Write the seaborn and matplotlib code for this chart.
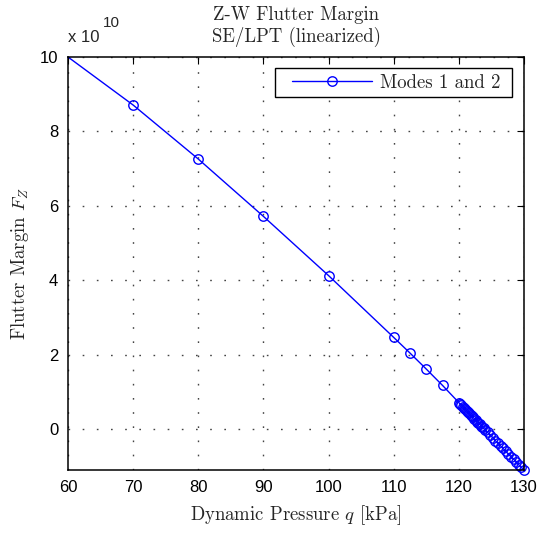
import matplotlib
matplotlib.use("Agg")
import matplotlib.pyplot as plt
from matplotlib.legend_handler import HandlerLine2D
import seaborn as sns

# Dynamic pressure [kPa] and flutter margin (units of 1e10)
q_coarse = [60, 70, 80, 90, 100, 110, 112.5, 115, 117.5]
fz_coarse = [10.0, 8.71, 7.26, 5.72, 4.13, 2.47, 2.05, 1.62, 1.18]

q_fine = [120.0, 120.2, 120.4, 120.6, 120.8, 121.0, 121.2, 121.4, 121.6, 121.8,
          122.0, 122.2, 122.4, 122.6, 122.8, 123.0, 123.2, 123.4, 123.6, 123.8,
          124.0, 124.4, 124.8, 125.2, 125.6, 126.0, 126.4, 126.8, 127.2, 127.6,
          128.0, 128.4, 128.8, 129.2, 129.6, 130.0]
fz_fine = [0.72, 0.68, 0.65, 0.61, 0.58, 0.54, 0.50, 0.47, 0.43, 0.39,
           0.36, 0.32, 0.29, 0.25, 0.21, 0.18, 0.14, 0.10, 0.07, 0.03,
           -0.01, -0.08, -0.15, -0.22, -0.30, -0.37, -0.44, -0.51, -0.59, -0.66,
           -0.73, -0.80, -0.87, -0.95, -1.02, -1.09]

q = q_coarse + q_fine
fz = fz_coarse + fz_fine

x_ticks = [60, 70, 80, 90, 100, 110, 120, 130]
y_ticks = [0, 2, 4, 6, 8, 10]

sns.set_style("white")
plt.rcParams["font.family"] = ["Liberation Sans", "DejaVu Sans"]
plt.rcParams["mathtext.fontset"] = "cm"

serif = "cmr10"
serif_size = 13.5

fig = plt.figure(figsize=(5.39, 5.34), dpi=100)
ax = fig.add_axes([68 / 539, 1 - 470 / 534, (524 - 68) / 539, (470 - 57) / 534])

sns.lineplot(x=q, y=fz, ax=ax, sort=False, color="blue", linewidth=1.0,
             marker="o", markersize=6.8, markerfacecolor="none",
             markeredgecolor="blue", markeredgewidth=1.0,
             markevery=slice(1, None), clip_on=False, label="Modes 1 and 2 ",
             legend=False)

ax.set_xlim(60, 130)
ax.set_ylim(-1.09, 10.0)
ax.set_xticks(x_ticks)
ax.set_yticks(y_ticks)
ax.set_xticklabels([str(t) for t in x_ticks])
ax.set_yticklabels([str(t) for t in y_ticks])

ax.tick_params(direction="in", length=5, width=0.8, top=True, right=True,
               labelsize=12, colors="black", pad=7)
for s in ax.spines.values():
    s.set_visible(True)
    s.set_color("black")
    s.set_linewidth(1.1)

ax.grid(True, color="#444444", linestyle=(0, (1.2, 9)), linewidth=1.0)

ax.set_title("Z-W Flutter Margin\nSE/LPT (linearized)", fontfamily=serif,
             fontsize=serif_size, pad=11, linespacing=1.2)
ax.set_xlabel("Dynamic Pressure $q$ [kPa]", fontfamily=serif,
              fontsize=serif_size, labelpad=6)
ax.set_ylabel("Flutter Margin $F_Z$", fontfamily=serif, fontsize=serif_size,
              labelpad=6)

# exponent label
fig.text(68 / 539, 1 - 38 / 534, "x 10", fontsize=12, va="center", ha="left")
fig.text(103 / 539, 1 - 23 / 534, "10", fontsize=11, va="center", ha="left")

handles, labels = ax.get_legend_handles_labels()
leg = ax.legend(handles, labels, loc="upper right",
                bbox_to_anchor=(1 - 12 / 456, 1 - 11 / 413),
                borderaxespad=0, frameon=True, fancybox=False,
                prop={"family": serif, "size": serif_size},
                handlelength=4.9, handletextpad=0.4, borderpad=0.3,
                handler_map={handles[0]: HandlerLine2D(xpad=0.64)})
leg.get_frame().set_edgecolor("black")
leg.get_frame().set_linewidth(1.0)
leg.get_frame().set_alpha(1)

fig.savefig("out.png", dpi=100)
